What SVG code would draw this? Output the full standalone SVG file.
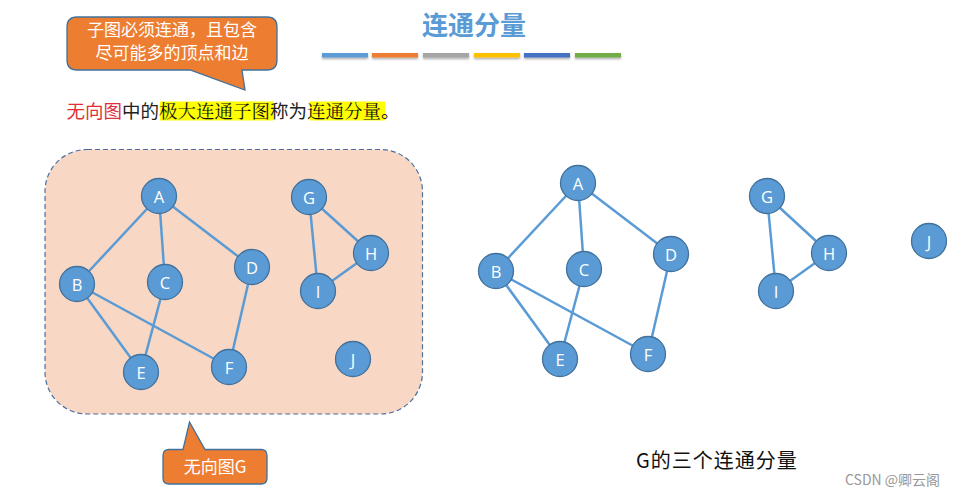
<svg xmlns="http://www.w3.org/2000/svg" width="959" height="496" viewBox="0 0 959 496">
<defs>
<style>
.edge{stroke:#5B9BD5;stroke-width:2.5;fill:none}
.node circle{fill:#5B9BD5;stroke:#41719C;stroke-width:1.3}
.node text{fill:#fff;font-family:"Open Sans","Liberation Sans",sans-serif;font-size:16.5px;text-anchor:middle;dominant-baseline:central}
.cjk{font-family:"Noto Sans CJK SC","Noto Sans",sans-serif}
.kai{font-family:"Noto Serif CJK SC","Noto Sans CJK SC",serif}
.callout{fill:#ED7D31;stroke:#41719C;stroke-width:1.3}
</style>
<filter id="sh" x="-10%" y="-50%" width="120%" height="250%">
<feDropShadow dx="0" dy="1.5" stdDeviation="1" flood-color="#000" flood-opacity="0.35"/>
</filter>
</defs>

<!-- title -->
<g id="title">
<text x="474" y="35" class="cjk" font-size="26" font-weight="bold" fill="#5B9BD5" text-anchor="middle">连通分量</text>
<g filter="url(#sh)">
<rect x="322" y="53" width="46" height="4.5" fill="#5B9BD5"/>
<rect x="372" y="53" width="46" height="4.5" fill="#ED7D31"/>
<rect x="423" y="53" width="46" height="4.5" fill="#A5A5A5"/>
<rect x="474" y="53" width="46" height="4.5" fill="#FFC000"/>
<rect x="524" y="53" width="46" height="4.5" fill="#4472C4"/>
<rect x="575" y="53" width="46" height="4.5" fill="#70AD47"/>
</g>
</g>

<!-- callout 1 -->
<g id="callout1">
<path class="callout" d="M77,17 H267 Q277,17 277,27 V60 Q277,70 267,70 H242 L245,90 L190,70 H77 Q67,70 67,60 V27 Q67,17 77,17 Z"/>
<text class="cjk" font-size="17" fill="#fff" text-anchor="middle"><tspan x="172" y="36">子图必须连通，且包含</tspan><tspan x="172" y="59">尽可能多的顶点和边</tspan></text>
</g>

<!-- definition line -->
<g id="definition">
<rect x="160" y="101.5" width="113.5" height="19" fill="#FFFF00"/>
<rect x="310" y="101.5" width="75" height="19" fill="#FFFF00"/>
<text y="117.5" font-size="18.5"><tspan x="66.5" class="cjk" fill="#E0303A">无向图</tspan><tspan class="cjk" fill="#222">中的</tspan><tspan class="kai" fill="#111">极大连通子图</tspan><tspan class="cjk" fill="#222">称为</tspan><tspan class="kai" fill="#111">连通分量</tspan><tspan class="cjk" fill="#222">。</tspan></text>
</g>

<!-- panel -->
<g id="panel">
<rect x="45" y="149.5" width="377.5" height="264.5" rx="42" ry="42" fill="#F8D8C4" stroke="#4A6FA0" stroke-width="1.2" stroke-dasharray="5,3"/>
</g>

<!-- connectors -->
<g id="connectors">
<line class="edge" x1="159" y1="196" x2="77" y2="284"/>
<line class="edge" x1="159" y1="196" x2="165" y2="282"/>
<line class="edge" x1="159" y1="196" x2="252" y2="267"/>
<line class="edge" x1="77" y1="284" x2="141" y2="372"/>
<line class="edge" x1="77" y1="284" x2="229" y2="367"/>
<line class="edge" x1="165" y1="282" x2="141" y2="372"/>
<line class="edge" x1="252" y1="267" x2="229" y2="367"/>
<line class="edge" x1="309" y1="197" x2="371" y2="253"/>
<line class="edge" x1="309" y1="197" x2="318" y2="291"/>
<line class="edge" x1="371" y1="253" x2="318" y2="291"/>

<line class="edge" x1="578" y1="183" x2="496" y2="271"/>
<line class="edge" x1="578" y1="183" x2="584" y2="269"/>
<line class="edge" x1="578" y1="183" x2="671" y2="254"/>
<line class="edge" x1="496" y1="271" x2="560" y2="359"/>
<line class="edge" x1="496" y1="271" x2="648" y2="354"/>
<line class="edge" x1="584" y1="269" x2="560" y2="359"/>
<line class="edge" x1="671" y1="254" x2="648" y2="354"/>
<line class="edge" x1="767" y1="196" x2="829" y2="253"/>
<line class="edge" x1="767" y1="196" x2="776" y2="291"/>
<line class="edge" x1="829" y1="253" x2="776" y2="291"/>
</g>

<!-- left graph nodes -->
<g id="G-A" class="node"><circle cx="159" cy="196" r="17.5"/><text x="159" y="196">A</text></g>
<g id="G-B" class="node"><circle cx="77" cy="284" r="17.5"/><text x="77" y="284">B</text></g>
<g id="G-C" class="node"><circle cx="165" cy="282" r="17.5"/><text x="165" y="282">C</text></g>
<g id="G-D" class="node"><circle cx="252" cy="267" r="17.5"/><text x="252" y="267">D</text></g>
<g id="G-E" class="node"><circle cx="141" cy="372" r="17.5"/><text x="141" y="372">E</text></g>
<g id="G-F" class="node"><circle cx="229" cy="367" r="17.5"/><text x="229" y="367">F</text></g>
<g id="G-G" class="node"><circle cx="309" cy="197" r="17.5"/><text x="309" y="197">G</text></g>
<g id="G-H" class="node"><circle cx="371" cy="253" r="17.5"/><text x="371" y="253">H</text></g>
<g id="G-I" class="node"><circle cx="318" cy="291" r="17.5"/><text x="318" y="291">I</text></g>
<g id="G-J" class="node"><circle cx="353" cy="359" r="17.5"/><text x="353" y="359">J</text></g>

<!-- right components nodes -->
<g id="C-A" class="node"><circle cx="578" cy="183" r="17.5"/><text x="578" y="183">A</text></g>
<g id="C-B" class="node"><circle cx="496" cy="271" r="17.5"/><text x="496" y="271">B</text></g>
<g id="C-C" class="node"><circle cx="584" cy="269" r="17.5"/><text x="584" y="269">C</text></g>
<g id="C-D" class="node"><circle cx="671" cy="254" r="17.5"/><text x="671" y="254">D</text></g>
<g id="C-E" class="node"><circle cx="560" cy="359" r="17.5"/><text x="560" y="359">E</text></g>
<g id="C-F" class="node"><circle cx="648" cy="354" r="17.5"/><text x="648" y="354">F</text></g>
<g id="C-G" class="node"><circle cx="767" cy="196" r="17.5"/><text x="767" y="196">G</text></g>
<g id="C-H" class="node"><circle cx="829" cy="253" r="17.5"/><text x="829" y="253">H</text></g>
<g id="C-I" class="node"><circle cx="776" cy="291" r="17.5"/><text x="776" y="291">I</text></g>
<g id="C-J" class="node"><circle cx="929" cy="241" r="17.5"/><text x="929" y="241">J</text></g>

<!-- callout 2 -->
<g id="callout2">
<path class="callout" d="M169,449.5 H183 L189.5,422 L205,449.5 H261 Q267,449.5 267,455.5 V478 Q267,484 261,484 H169 Q163,484 163,478 V455.5 Q163,449.5 169,449.5 Z"/>
<text x="215" y="473" class="cjk" font-size="17" fill="#fff" text-anchor="middle">无向图G</text>
</g>

<!-- caption -->
<g id="caption">
<text x="636" y="468" class="cjk" font-size="20" letter-spacing="1" fill="#111">G的三个连通分量</text>
</g>

<g id="watermark">
<text x="845" y="485" class="cjk" font-size="14" fill="#999">CSDN @卿云阁</text>
</g>
</svg>
